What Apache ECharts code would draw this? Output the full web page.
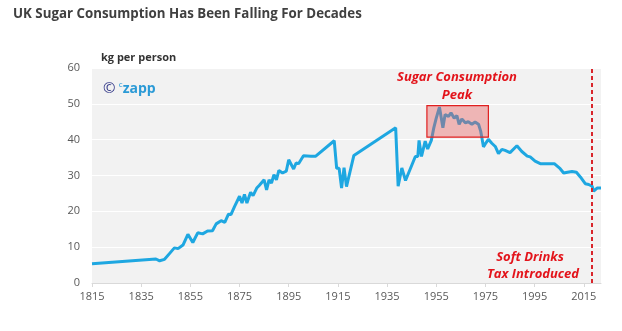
<!DOCTYPE html>
<html><head><meta charset="utf-8">
<script src="https://cdn.jsdelivr.net/npm/echarts@6/dist/echarts.min.js"></script>
<style>html,body{margin:0;padding:0;background:#fff}#c{width:622px;height:331px}</style>
</head><body><div id="c"></div>
<script>
const years = [1815, 1841, 1842.5, 1844.5, 1846.5, 1848.5, 1850, 1852, 1854, 1856, 1858, 1860, 1862, 1864, 1865.5, 1867.5, 1869, 1870.5, 1871.5, 1873, 1875, 1876, 1877, 1878, 1879.5, 1880.5, 1882, 1883, 1885, 1886, 1887, 1888, 1889, 1890, 1891, 1892.5, 1894, 1895, 1897, 1898, 1899, 1901, 1904, 1906, 1913.5, 1914.5, 1915.5, 1916.5, 1917.5, 1918.5, 1921.5, 1938.5, 1939.5, 1941, 1942.5, 1946.5, 1947.5, 1948, 1949, 1950.5, 1951.5, 1953, 1954, 1955, 1956.3, 1957.7, 1958.6, 1960, 1961, 1962.3, 1963.4, 1964.3, 1965.4, 1966.8, 1968, 1969.5, 1970.8, 1972.2, 1973.1, 1974.2, 1975.3, 1976.2, 1977.6, 1979, 1980.3, 1981.7, 1983, 1985, 1987.8, 1989.8, 1992, 1993.2, 1995.2, 1997.3, 2001.3, 2003, 2005.4, 2006.8, 2008.4, 2010.2, 2012, 2013.6, 2015.6, 2017, 2018.4, 2019, 2020.4, 2022];
const kgPerPerson = [5.4, 6.7, 6.2, 6.6, 8.2, 9.8, 9.6, 10.6, 13.6, 11.3, 14.0, 13.7, 14.5, 14.6, 16.5, 17.4, 16.9, 19.2, 19.1, 21.4, 24.2, 22.3, 24.7, 22.3, 25.3, 24.4, 26.5, 27.2, 28.8, 26.0, 28.8, 27.9, 30.2, 28.8, 31.4, 30.7, 31.2, 34.4, 31.8, 33.5, 33.3, 35.5, 35.4, 35.4, 39.7, 32.0, 32.0, 26.5, 32.2, 26.9, 35.6, 43.3, 27.0, 32.1, 28.6, 35.3, 35.3, 39.8, 35.3, 39.6, 37.4, 39.8, 43.3, 46.0, 49.1, 43.3, 47.0, 46.5, 47.5, 46.0, 46.7, 44.3, 45.8, 44.7, 45.0, 44.3, 44.9, 44.3, 42.3, 38.0, 39.2, 40.1, 39.0, 38.1, 36.1, 37.3, 37.0, 36.4, 38.3, 36.7, 35.4, 35.2, 34.0, 33.3, 33.3, 33.3, 31.9, 30.7, 30.9, 31.1, 30.9, 29.6, 27.7, 27.5, 27.0, 25.6, 26.5, 26.5];
const xTickLabels = [1815, 1835, 1855, 1875, 1895, 1915, 1935, 1955, 1975, 1995, 2015];
const peakBox = {fromYear: 1951.2, toYear: 1976.2, low: 40.7, high: 49.5};
const taxYear = 2018.4;

const chart = echarts.init(document.getElementById('c'));
const FONT = '"Open Sans", sans-serif';
chart.setOption({
  animation: false,
  textStyle: {fontFamily: FONT},
  title: {
    text: 'UK Sugar Consumption Has Been Falling For Decades',
    left: 8, top: 3,
    textStyle: {fontFamily: FONT, fontSize: 13.3, fontWeight: 'bold', color: '#404040'}
  },
  grid: {left: 92, right: 21, top: 68, bottom: 48, show: true, backgroundColor: '#f2f2f2', borderWidth: 0},
  xAxis: {
    type: 'value', min: 1815, max: 2022,
    axisLine: {show: true, lineStyle: {color: '#d9d9d9', width: 1}},
    axisTick: {show: true, customValues: xTickLabels, length: 4, lineStyle: {color: '#d9d9d9'}},
    axisLabel: {customValues: xTickLabels, formatter: v => String(Math.round(v)), color: '#595959', fontSize: 11, fontFamily: FONT, margin: 8},
    splitLine: {show: false}
  },
  yAxis: {
    type: 'value', min: 0, max: 60, interval: 10,
    name: 'kg per person', nameLocation: 'end', nameGap: 5,
    nameTextStyle: {fontWeight: 'bold', fontSize: 11, color: '#333', align: 'left', padding: [0, 0, 0, 9], fontFamily: FONT},
    axisLine: {show: false}, axisTick: {show: false},
    axisLabel: {color: '#595959', fontSize: 11, fontFamily: FONT, margin: 12},
    splitLine: {lineStyle: {color: '#ffffff', width: 1}}
  },
  series: [{
    type: 'line',
    data: years.map((y, i) => [y, kgPerPerson[i]]),
    showSymbol: false, symbol: 'none',
    lineStyle: {color: '#1ea7e1', width: 3},
    z: 1,
    markLine: {
      silent: true, symbol: 'none',
      label: {show: false},
      lineStyle: {color: '#d9252b', type: [4, 3], width: 2},
      data: [{xAxis: taxYear}]
    }
  }, {
    type: 'line', data: [], z: 10,
    markArea: {
      silent: true, z: 10,
      itemStyle: {color: 'rgba(232,90,90,0.4)', borderColor: '#e02020', borderWidth: 1.2},
      data: [[{coord: [peakBox.fromYear, peakBox.high]}, {coord: [peakBox.toYear, peakBox.low]}]]
    }
  }],
  graphic: [
    {type: 'text', left: 103, top: 81, style: {
      text: '{a|©} {b|c}{c|zapp}',
      rich: {
        a: {fontSize: 15, fill: '#3a3f8c', fontFamily: FONT},
        b: {fontSize: 8, fill: '#2b9ad6', fontFamily: FONT, verticalAlign: 'top', padding: [0, 0, 8, 0]},
        c: {fontSize: 14, fill: '#2b9ad6', fontWeight: 'bold', fontFamily: FONT}
      }
    }},
    {type: 'text', x: 457, y: 77, style: {text: 'Sugar Consumption', align: 'center', verticalAlign: 'middle', fill: '#e3141b', font: 'italic bold 13px ' + FONT}},
    {type: 'text', x: 457, y: 95, style: {text: 'Peak', align: 'center', verticalAlign: 'middle', fill: '#e3141b', font: 'italic bold 13px ' + FONT}},
    {type: 'text', x: 530, y: 257, style: {text: 'Soft Drinks', align: 'center', verticalAlign: 'middle', fill: '#e3141b', font: 'italic bold 13px ' + FONT}},
    {type: 'text', x: 533, y: 274, style: {text: 'Tax Introduced', align: 'center', verticalAlign: 'middle', fill: '#e3141b', font: 'italic bold 13px ' + FONT}}
  ]
});
</script></body></html>
